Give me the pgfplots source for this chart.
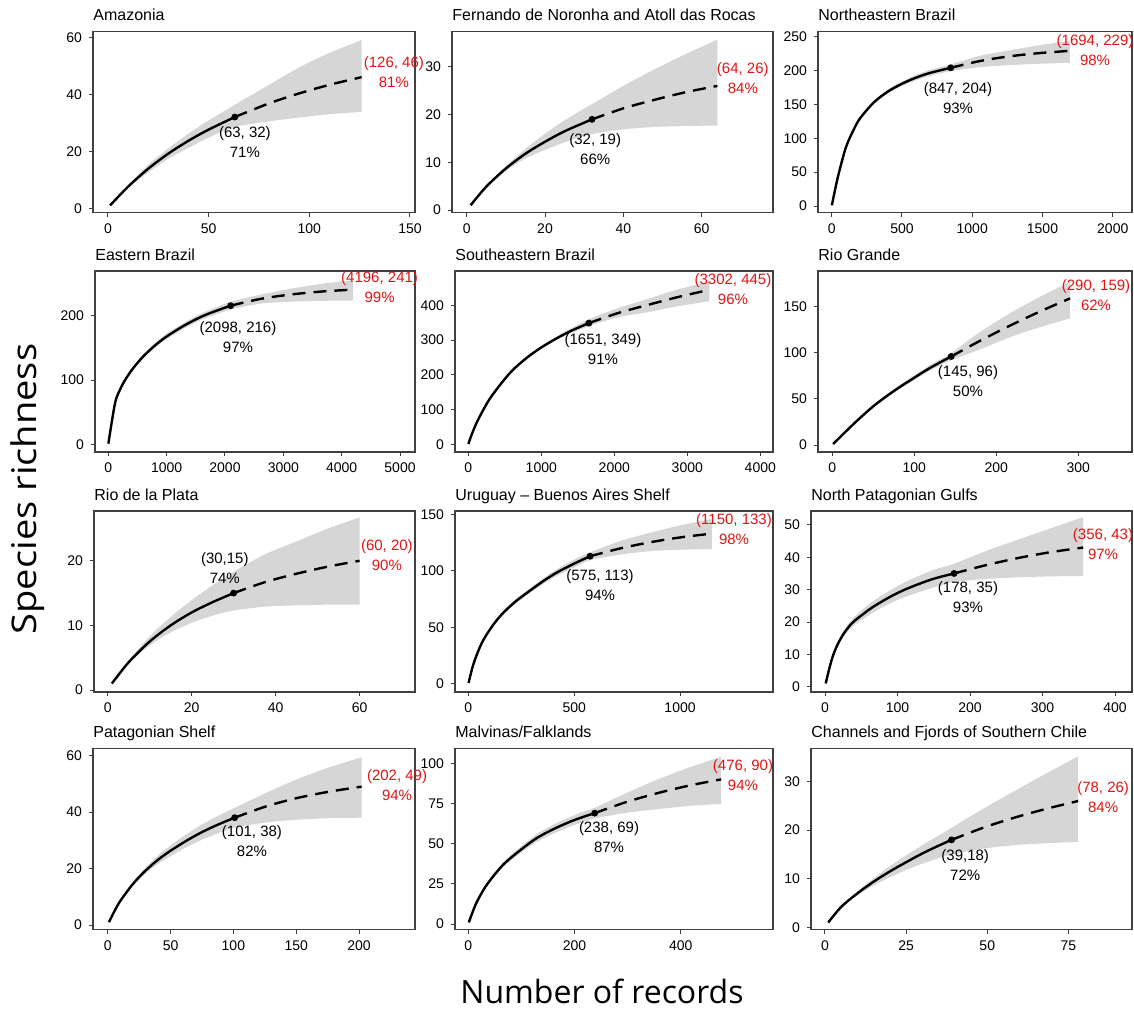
\documentclass[border=0pt]{standalone}
\usepackage{pgfplots}
\pgfplotsset{compat=1.18}
\usepackage{pgfplotstable}
\usepgfplotslibrary{fillbetween}
\usepackage{fontspec}
\setmainfont{Liberation Sans}
\newfontfamily\labfont{Open Sans}
\definecolor{bandgray}{RGB}{214,214,214}
\definecolor{extred}{RGB}{225,20,20}

% columns: records, richness, lower and upper 95% bound
\pgfplotstableread{
x s lo hi
1 1 1 1
10 7.6 7.2 8.0
20 13.9 12.6 15.3
30 19.2 17.4 21.0
40 23.7 21.2 26.2
50 27.6 24.8 30.8
63 32 28.5 36.3
80 36.8 30.5 43.3
95 40.3 31.8 49.4
110 43.3 33.0 54.5
126 46 33.8 59
}\tAma
\pgfplotstableread{
x s lo hi
1 1 1 1
5 4.9 4.7 5.0
10 8.7 8.2 9.2
15 11.8 10.8 12.8
20 14.3 12.6 16.0
25 16.5 14.2 18.8
32 19 15.9 22.2
40 21.3 16.9 26.0
48 23.1 17.4 29.5
56 24.7 17.6 32.7
64 26 17.7 35.7
}\tFer
\pgfplotstableread{
x s lo hi
1 1 1 1
25 25 24.5 25.5
50 48 47 49
100 86 84.5 87.5
150 110 108 112
200 129 127 131
300 153 150.5 155.5
400 169 166 172
500 180.5 177 184
600 189.5 185.5 193.5
700 196.5 192 201
847 204 199 209
1059 214.2 205 222
1270 221.1 208 230
1482 225.8 210 237.5
1694 229 211.5 244
}\tNEB
\pgfplotstableread{
x s lo hi
1 1 1 1
114 63.5 62.5 64.5
200 85 83.5 86.5
300 102 100 104
430 119 116.5 121.5
600 137 134 140
800 154 150.5 157.5
1000 168 164 172
1300 185 180.5 189.5
1600 199 194 204
1850 208 202.5 213.5
2098 216 210 222
2600 226.4 219 233
3100 233.1 222 242
3650 238 223.5 250
4196 241 224 256
}\tEB
\pgfplotstableread{
x s lo hi
1 1 1 1
50 30 29.5 30.5
114 62 61 63
200 97 95.5 98.5
300 133 131 135
450 175 172.5 177.5
600 212 209 215
800 249 245.5 252.5
1000 279 275 283
1200 304 299 309
1400 326 320 333
1651 349 340 360
2051 378 366 392
2451 401 380 418
2851 423 397 445
3302 445 412 468
}\tSEB
\pgfplotstableread{
x s lo hi
1 1 1 1
25 22 21.5 22.5
50 42 40.5 43.5
75 58.5 56.5 60.5
100 73 70.5 75.5
120 84 81 87
145 96 92 100
181 113.4 104 123
217 129.6 117 143
254 145.1 128 161
290 159 137.3 177
}\tRG
\pgfplotstableread{
x s lo hi
1 1 1 1
5 4.3 4.1 4.5
10 7.5 6.9 8.3
15 10 8.9 11.3
20 12 10.4 13.9
25 13.6 11.5 16.2
30 15 12.3 18.3
37.5 16.7 12.9 21
45 18 13.1 23
52.5 19.1 13.2 25
60 20 13.2 26.7
}\tRP
\pgfplotstableread{
x s lo hi
1 1 1 1
20 15 14.5 15.5
40 26 25 27
71 39 38 40
120 53 51.5 54.5
165 63 61.3 64.7
220 72.5 70.5 74.5
276 80.5 78.5 82.5
350 90.5 88 93
417 98.5 95.5 101.5
500 106.5 103 110
575 113 109.5 116.5
719 120 114.5 126.5
863 125.5 117.5 134
1006 129.8 118.8 140.5
1150 133 119.3 146
}\tUBA
\pgfplotstableread{
x s lo hi
1 1 1 1
5 4.8 4.7 4.9
10 8.9 8.6 9.2
15 11.9 11.4 12.4
20 14.2 13.5 14.9
27 16.8 15.9 17.7
35 19.1 17.9 20.3
42 20.6 19.3 21.9
50 22 20.5 23.5
60 23.7 22 25.4
70 25.2 23.4 27
90 27.8 25.8 29.8
110 30 27.7 32.3
136 32.3 29.7 34.9
155 33.7 31 36.5
178 35 32.4 38
222.5 37.6 33.3 42
267 39.8 33.8 45.5
311.5 41.6 34.1 49
356 43 34.2 52.4
}\tNPG
\pgfplotstableread{
x s lo hi
1 1 1 1
5 4.6 4.5 4.7
10 8.5 8.2 8.8
20 14.5 13.8 15.2
30 19.2 18.1 20.3
40 23.1 21.6 24.6
50 26.3 24.4 28.2
62.5 29.8 27.5 32.1
75 32.9 30.2 35.6
88 35.6 32.5 38.7
101 38 34.5 41.5
126 42 36.3 46.8
151 45 37.3 51.7
176 47.2 37.8 55.8
202 49 38 59.4
}\tPS
\pgfplotstableread{
x s lo hi
1 1 1 1
15 13 12.6 13.4
35 24.5 23.5 25.5
66 37 35.5 38.5
100 46.5 44.5 48.5
129 53.5 51 56
160 59 56.2 61.8
192 63.7 60.7 66.7
215 66.5 63.3 69.7
238 69 65.7 72.3
297.5 75.9 69.2 81.5
357 81.5 71.5 90
416.5 86.2 73.5 97.5
476 90 74.7 104
}\tMF
\pgfplotstableread{
x s lo hi
1 1 1 1
5 4.2 4.1 4.3
10 7.0 6.6 7.4
15 9.4 8.6 10.1
20 11.5 10.3 12.6
25 13.4 11.8 14.8
30 15.2 13.1 16.9
35 16.8 14.2 18.9
39 18 15.0 20.5
48.75 20.5 16.2 24.4
58.5 22.6 16.9 28.1
68.25 24.4 17.3 31.7
78 26 17.6 35.2
}\tCF

\pgfplotsset{
  rare/.style={scale only axis, height=90.5pt, anchor=south west, clip=false,
    axis line style={black!75, line width=0.6pt},
    tick pos=left, tick align=outside, major tick length=2pt,
    tick style={black!75, line width=0.5pt},
    tick label style={font=\fontsize{7}{8}\selectfont},
    /pgf/number format/assume math mode=true,
    /pgf/number format/1000 sep={},
    scaled ticks=false,
    title style={at={(0,1)}, anchor=base west, yshift=-0.6pt, inner sep=0pt,
      font=\fontsize{8}{9}\selectfont}},
  cur/.style={black, line width=1.2pt, smooth},
}
\tikzset{lbl/.style={align=center, font=\fontsize{7.5}{10}\selectfont, inner sep=0pt}}

% band, observed (solid) part, extrapolated (dashed) part, observed point
% #1 table, #2 n, #3 2n, #4 richness at n
\newcommand{\rare}[4]{%
  \addplot[name path=hi, draw=none, smooth] table[x=x,y=hi]{#1};
  \addplot[name path=lo, draw=none, smooth] table[x=x,y=lo]{#1};
  \addplot[fill=bandgray, draw=none] fill between[of=hi and lo];
  \addplot[cur, restrict x to domain=0:#2] table[x=x,y=s]{#1};
  \addplot[cur, dash pattern=on 6.5pt off 4pt, restrict x to domain=#2:#3] table[x=x,y=s]{#1};
  \addplot[only marks, mark=*, mark size=1.5pt] coordinates {(#2,#4)};
}

\begin{document}
\begin{tikzpicture}

% row 1
\begin{axis}[rare, at={(46.5pt,-106.25pt)}, width=161pt, title={Amazonia},
  xmin=-7.45, xmax=152.5, ymin=-1.47, ymax=62, xtick={0,50,100,150}, ytick={0,20,40,60}]
\rare{\tAma}{63}{126}{32}
\node[lbl] at (axis cs:68,23.3) {(63, 32)\\71\%};
\node[lbl, text=extred] at (axis cs:142,47.8) {(126, 46)\\81\%};
\end{axis}

\begin{axis}[rare, at={(226pt,-106.25pt)}, width=160.5pt, title={Fernando de Noronha and Atoll das Rocas},
  xmin=-3.75, xmax=78.2, ymin=-0.52, ymax=37.4, xtick={0,20,40,60}, ytick={0,10,20,30}]
\rare{\tFer}{32}{64}{19}
\node[lbl] at (axis cs:32.8,12.8) {(32, 19)\\66\%};
\node[lbl, text=extred] at (axis cs:70.5,27.6) {(64, 26)\\84\%};
\end{axis}

\begin{axis}[rare, at={(409pt,-106.25pt)}, width=157pt, title={Northeastern Brazil},
  xmin=-97.5, xmax=2137, ymin=-9.6, ymax=257.6, xtick={0,500,...,2000}, ytick={0,50,...,250}]
\rare{\tNEB}{847}{1694}{204}
\node[lbl] at (axis cs:899,159.5) {(847, 204)\\93\%};
\node[lbl, text=extred] at (axis cs:1874,229.6) {(1694, 229)\\98\%};
\end{axis}

% row 2
\begin{axis}[rare, at={(47.5pt,-226pt)}, width=160pt, title={Eastern Brazil},
  xmin=-228, xmax=5257, ymin=-12, ymax=270, xtick={0,1000,...,5000}, ytick={0,100,200}]
\rare{\tEB}{2098}{4196}{216}
\node[lbl] at (axis cs:2223,167.2) {(2098, 216)\\97\%};
\node[lbl, text=extred] at (axis cs:4650,245) {(4196, 241)\\99\%};
\end{axis}

\begin{axis}[rare, at={(227.5pt,-226pt)}, width=159pt, title={Southeastern Brazil},
  xmin=-182, xmax=4174, ymin=-22.2, ymax=499.1, xtick={0,1000,...,4000}, ytick={0,100,...,500}]
\rare{\tSEB}{1651}{3302}{349}
\node[lbl] at (axis cs:1845,273) {(1651, 349)\\91\%};
\node[lbl, text=extred] at (axis cs:3626,445.9) {(3302, 445)\\96\%};
\end{axis}

\begin{axis}[rare, at={(409pt,-226pt)}, width=157pt, title={Rio Grande},
  xmin=-17.4, xmax=365.5, ymin=-7.6, ymax=188.7, xtick={0,100,200,300}, ytick={0,50,100,150}]
\rare{\tRG}{145}{290}{96}
\node[lbl] at (axis cs:165.5,69.4) {(145, 96)\\50\%};
\node[lbl, text=extred] at (axis cs:321.6,162.7) {(290, 159)\\62\%};
\end{axis}

% row 3
\begin{axis}[rare, at={(47pt,-346pt)}, width=160.5pt, title={Rio de la Plata},
  xmin=-3.26, xmax=73.2, ymin=-0.31, ymax=27.7, xtick={0,20,40,60}, ytick={0,10,20}]
\rare{\tRP}{30}{60}{15}
\node[lbl] at (axis cs:27.9,18.8) {(30,15)\\74\%};
\node[lbl, text=extred] at (axis cs:66.5,20.8) {(60, 20)\\90\%};
\end{axis}

\begin{axis}[rare, at={(227.5pt,-346pt)}, width=159pt, title={Uruguay -- Buenos Aires Shelf},
  xmin=-63, xmax=1439, ymin=-7.1, ymax=153, xtick={0,500,1000}, ytick={0,50,100,150}]
\rare{\tUBA}{575}{1150}{113}
\node[lbl] at (axis cs:622,87.1) {(575, 113)\\94\%};
\node[lbl, text=extred] at (axis cs:1255,136.6) {(1150, 133)\\98\%};
\end{axis}

\begin{axis}[rare, at={(405.5pt,-346pt)}, width=160.5pt, title={North Patagonian Gulfs},
  xmin=-19.3, xmax=423.4, ymin=-1.64, ymax=54.3, xtick={0,100,...,400}, ytick={0,10,...,50}]
\rare{\tNPG}{178}{356}{35}
\node[lbl] at (axis cs:197.2,27.7) {(178, 35)\\93\%};
\node[lbl, text=extred] at (axis cs:383.4,44) {(356, 43)\\97\%};
\end{axis}

% row 4
\begin{axis}[rare, at={(46.5pt,-464.75pt)}, width=161pt, title={Patagonian Shelf},
  xmin=-11.7, xmax=244.5, ymin=-1.6, ymax=62.5, xtick={0,50,...,200}, ytick={0,20,40,60}]
\rare{\tPS}{101}{202}{38}
\node[lbl] at (axis cs:114.8,29.6) {(101, 38)\\82\%};
\node[lbl, text=extred] at (axis cs:230.2,49.4) {(202, 49)\\94\%};
\end{axis}

\begin{axis}[rare, at={(227.5pt,-464.75pt)}, width=159pt, title={Malvinas/Falklands},
  xmin=-25, xmax=573.8, ymin=-3.4, ymax=109.2, xtick={0,200,400}, ytick={0,25,...,100}]
\rare{\tMF}{238}{476}{69}
\node[lbl] at (axis cs:265,54.1) {(238, 69)\\87\%};
\node[lbl, text=extred] at (axis cs:517.3,92.4) {(476, 90)\\94\%};
\end{axis}

\begin{axis}[rare, at={(405.5pt,-464.75pt)}, width=160.5pt, title={Channels and Fjords of Southern Chile},
  xmin=-4.3, xmax=94.6, ymin=-0.45, ymax=36.8, xtick={0,25,50,75}, ytick={0,10,20,30}]
\rare{\tCF}{39}{78}{18}
\node[lbl] at (axis cs:43.2,12.8) {(39,18)\\72\%};
\node[lbl, text=extred] at (axis cs:85.7,26.8) {(78, 26)\\84\%};
\end{axis}

\node[rotate=90, font=\labfont\fontsize{17}{20}\selectfont] at (14pt,-244.5pt) {\scalebox{1.12}[1]{Species richness}};
\node[font=\labfont\fontsize{16}{19}\selectfont] at (301pt,-495.5pt) {Number of records};

\pgfresetboundingbox
\useasboundingbox (0,0) rectangle (567pt,-504pt);
\end{tikzpicture}
\end{document}
